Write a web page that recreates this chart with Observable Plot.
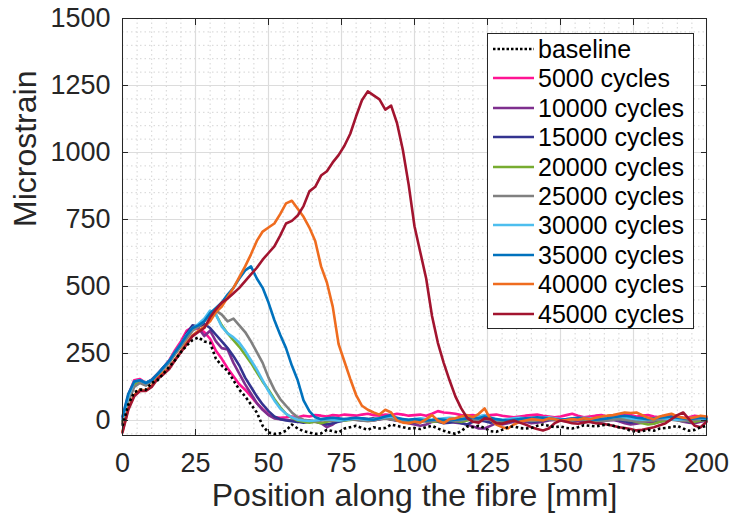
<!DOCTYPE html>
<html>
<head>
<meta charset="utf-8">
<script src="https://cdn.jsdelivr.net/npm/d3@7"></script>
<script src="https://cdn.jsdelivr.net/npm/@observablehq/plot@0.6"></script>
<style>
  html, body { margin: 0; padding: 0; background: #fff; }
  #wrap { position: relative; width: 734px; height: 520px; font-family: "Liberation Sans", Arial, sans-serif; }
  #legend { position: absolute; left: 487px; top: 33px; width: 207px; height: 296px; background: #fff; border: 1px solid #262626; box-sizing: border-box; }
  .row { position: absolute; left: 0; height: 30px; width: 100%; }
  .row svg { position: absolute; left: 4px; top: 0; }
  .row span { position: absolute; left: 50px; top: 0; line-height: 30px; font-size: 25px; color: #000; white-space: nowrap; }
</style>
</head>
<body>
<div id="wrap"><div id="chart"></div><div id="legend"></div></div>
<script>
const seriesNames = ["baseline","5000 cycles","10000 cycles","15000 cycles","20000 cycles","25000 cycles","30000 cycles","35000 cycles","40000 cycles","45000 cycles"];
const seriesColors = ["#000000","#ff1493","#7e2f8e","#33338f","#77ac30","#808080","#4dbeee","#0072bd","#ef6c1f","#a2142f"];
const xTicks = [0,25,50,75,100,125,150,175,200];
const yTicks = [0,250,500,750,1000,1250,1500];
const xMinor = [5,10,15,20,30,35,40,45,55,60,65,70,80,85,90,95,105,110,115,120,130,135,140,145,155,160,165,170,180,185,190,195];
const yMinor = [-50,50,100,150,200,300,350,400,450,550,600,650,700,800,850,900,950,1050,1100,1150,1200,1300,1350,1400,1450];

const positions = [0,2,4,6,8,10,12,14,16,18,20,22,24,26,28,30,32,34,36,38,40,42,44,46,48,50,52,54,56,58,60,62,64,66,68,70,72,74,76,78,80,82,84,86,88,90,92,94,96,98,100,102,104,106,108,110,112,114,116,118,120,122,124,126,128,130,132,134,136,138,140,142,144,146,148,150,152,154,156,158,160,162,164,166,168,170,172,174,176,178,180,182,184,186,188,190,192,194,196,198,200];

const baseline = [-20,60,105,115,115,140,150,175,200,225,
  255,280,300,310,295,290,230,205,185,150,
  115,90,60,30,-20,-45,-50,-48,-38,-15,
  -30,-40,-45,-50,-48,-35,-40,-45,-30,-25,
  -20,-28,-35,-25,-30,-28,-15,-20,-25,-30,
  -28,-32,-25,-20,-30,-38,-45,-50,-40,-22,
  -25,-20,-28,-40,-42,-35,-25,-22,-28,-30,
  -28,-20,-15,-20,-25,-22,-28,-30,-25,-18,
  -20,-22,-18,-15,-20,-25,-30,-38,-42,-40,
  -35,-38,-30,-28,-25,-20,-30,-38,-35,-25,
  -20];
const c5000 = [10,95,150,155,140,150,172,198,225,262,
  295,335,348,340,330,305,260,230,195,165,
  135,115,90,65,42,22,12,10,12,15,
  12,18,15,20,18,15,20,18,22,20,
  18,22,25,20,18,22,20,25,22,18,
  20,22,18,25,35,30,28,25,20,18,
  20,15,18,20,22,18,15,12,15,18,
  20,22,18,15,12,15,20,25,18,12,
  15,18,20,15,12,18,22,20,15,18,
  20,15,12,18,22,15,10,12,18,15,
  12];
const c10000 = [-10,80,135,145,135,150,170,195,220,250,
  280,320,350,345,315,335,295,270,265,215,
  175,135,100,65,40,20,8,5,3,0,
  2,-2,0,-5,-10,-25,-15,0,5,3,
  5,8,5,0,5,8,3,0,-5,-10,
  -15,-20,-15,-5,0,-5,-5,-8,-10,-15,
  -22,-30,-30,-20,-10,-15,-10,-5,0,-5,
  -10,-8,-5,0,2,5,0,-5,-2,0,
  -5,-8,-5,0,2,-3,-10,-15,-12,-8,
  -5,-10,-5,0,5,2,-5,-8,-10,-5,
  0];
const c15000 = [0,85,140,150,140,152,175,198,222,255,
  285,325,355,350,360,345,320,295,270,240,
  205,160,125,90,60,35,15,5,0,-3,
  -5,-8,-5,-2,-8,-15,-10,-5,0,5,
  3,0,5,8,5,10,5,0,-3,-5,
  -8,-5,0,-2,-5,-10,-8,-5,-10,-15,
  -5,0,-3,-8,-5,-10,-5,0,2,0,
  -5,-3,0,3,5,2,-2,0,3,5,
  0,-3,0,3,5,2,-3,-8,-5,0,
  3,0,-3,2,5,3,0,-5,-3,0,
  2];
const c20000 = [-5,80,135,145,135,148,170,195,218,250,
  278,310,340,355,375,395,395,355,325,300,
  275,245,215,180,145,115,80,50,25,10,
  0,-5,-8,-5,-10,-5,0,3,0,2,
  5,3,0,5,8,10,5,2,0,-3,
  0,3,0,-5,-3,0,2,-2,-5,0,
  5,3,8,5,0,-3,0,3,5,2,
  0,3,5,8,5,3,0,2,5,3,
  0,-3,0,5,8,10,5,0,-5,-10,
  -15,-12,-5,0,3,5,2,-3,-5,0,
  3];
const c25000 = [-10,70,125,140,130,145,168,192,215,248,
  275,305,335,350,370,395,410,395,370,380,
  355,330,295,255,215,160,115,80,55,30,
  12,3,0,-3,0,2,-2,0,3,5,
  2,0,-3,0,5,8,5,0,-2,0,
  3,0,-5,-3,0,2,0,-3,0,5,
  3,0,5,2,-2,0,3,5,2,0,
  -2,0,3,5,2,0,-3,0,3,5,
  3,0,-3,0,3,5,2,0,-3,-5,
  -2,0,3,5,3,0,-3,0,2,5,
  3];
const c30000 = [5,90,145,150,140,150,172,197,222,255,
  285,320,345,360,380,410,395,350,325,310,
  290,260,225,190,150,110,75,45,25,12,
  3,0,-2,0,3,5,3,0,2,5,
  8,5,3,5,8,12,15,8,5,3,
  5,8,5,3,5,8,10,8,5,8,
  12,15,20,10,5,3,5,8,10,8,
  5,8,10,12,8,5,3,5,8,10,
  8,5,8,10,12,15,12,8,5,3,
  5,8,10,8,5,3,5,8,10,8,
  5];
const c35000 = [15,100,145,150,140,150,172,198,222,255,
  285,318,345,355,370,400,420,440,470,495,
  530,560,575,530,495,440,375,320,270,205,
  150,75,35,12,5,8,10,8,5,8,
  10,8,5,3,8,15,20,10,5,3,
  5,3,0,2,5,3,0,3,5,8,
  10,8,15,10,5,2,0,3,5,8,
  10,12,10,8,5,3,5,8,10,8,
  5,3,5,8,12,15,18,15,10,8,
  5,8,10,12,15,10,8,5,8,10,
  8];
const c40000 = [-40,45,95,115,112,130,158,178,198,228,
  258,290,318,335,350,370,405,425,460,495,
  535,575,620,670,705,720,735,770,810,820,
  790,760,720,670,575,515,425,285,220,155,
  95,55,40,30,22,40,30,0,-8,-10,
  -5,-8,5,20,0,-10,5,8,15,20,
  12,25,45,5,-15,-25,-30,-15,-5,0,
  5,3,0,8,5,0,2,5,3,8,
  5,10,15,18,20,25,30,28,30,20,
  10,5,15,20,25,15,10,8,12,18,
  15];
const c45000 = [-45,40,90,110,110,125,155,172,192,225,
  255,285,315,330,345,385,415,440,455,475,
  495,520,545,570,600,625,650,690,735,745,
  765,800,855,872,914,930,963,990,1025,1070,
  1135,1195,1228,1213,1198,1160,1175,1110,1010,880,
  725,627,530,390,290,215,150,90,45,10,
  -5,-8,8,5,-10,-12,-5,0,-8,-15,
  -25,-32,-37,-30,-10,0,-5,-10,-12,-8,
  -5,-10,-12,-15,-20,-25,-28,-32,-37,-35,
  -30,-25,-18,-10,5,20,30,5,-20,-25,
  -5];

const seriesValues = [baseline,c5000,c10000,c15000,c20000,c25000,c30000,c35000,c40000,c45000];

const rows = [];
seriesNames.forEach((name, i) => {
  positions.forEach((p, j) => rows.push({series: name, x: p, y: seriesValues[i][j]}));
});

const fontFamily = '"Liberation Sans", Arial, sans-serif';
const color = {type: "ordinal", domain: seriesNames, range: seriesColors};

const chart = Plot.plot({
  width: 734, height: 520,
  marginLeft: 122, marginRight: 28, marginTop: 18, marginBottom: 85,
  style: {fontFamily, fontSize: "27px", color: "#262626", background: "#fff"},
  x: {domain: [0, 200]},
  y: {domain: [-56, 1500]},
  color,
  marks: [
    Plot.gridX(xMinor, {stroke: "#d4d4d4", strokeOpacity: 1, strokeDasharray: "1.5,3"}),
    Plot.gridY(yMinor, {stroke: "#d4d4d4", strokeOpacity: 1, strokeDasharray: "1.5,3"}),
    Plot.gridX(xTicks, {stroke: "#dcdcdc", strokeOpacity: 1, strokeWidth: 1.2}),
    Plot.gridY(yTicks, {stroke: "#dcdcdc", strokeOpacity: 1, strokeWidth: 1.2}),
    Plot.line(rows.filter(d => d.series !== "baseline"), {x: "x", y: "y", z: "series", stroke: "series", strokeWidth: 2.6, curve: "linear"}),
    Plot.line(rows.filter(d => d.series === "baseline"), {x: "x", y: "y", stroke: "#000", strokeWidth: 2.6, strokeDasharray: "2.6,2.6", strokeLinecap: "butt"}),
    Plot.frame({stroke: "#262626", strokeWidth: 1}),
    Plot.axisX(xTicks, {tickSize: 0, tickPadding: 17, label: null, fontSize: 27, tickFormat: "d"}),
    Plot.axisY(yTicks, {tickSize: 0, tickPadding: 12, label: null, fontSize: 27, tickFormat: "d"}),
    Plot.axisX(xTicks, {anchor: "bottom", tickSize: -6, fill: "none", label: null, stroke: "#262626"}),
    Plot.axisX(xTicks, {anchor: "top", tickSize: -6, fill: "none", label: null, stroke: "#262626"}),
    Plot.axisY(yTicks, {anchor: "left", tickSize: -6, fill: "none", label: null, stroke: "#262626"}),
    Plot.axisY(yTicks, {anchor: "right", tickSize: -6, fill: "none", label: null, stroke: "#262626"}),
    Plot.text(["Position along the fibre [mm]"], {frameAnchor: "bottom", dy: 70, fontSize: 32, fill: "#262626"}),
    Plot.text(["Microstrain"], {frameAnchor: "left", rotate: -90, dx: -97, fontSize: 32, fill: "#262626"})
  ]
});
document.getElementById("chart").appendChild(chart);

const legend = document.getElementById("legend");
seriesNames.forEach((name, i) => {
  const row = document.createElement("div");
  row.className = "row";
  row.style.top = (i * 29.4) + "px";
  const dash = i === 0 ? 'stroke-dasharray="2.5,2"' : "";
  row.innerHTML = `<svg width="44" height="30"><line x1="1" x2="42" y1="15" y2="15" stroke="${seriesColors[i]}" stroke-width="2.6" ${dash}/></svg><span>${name}</span>`;
  legend.appendChild(row);
});
</script>
</body>
</html>
